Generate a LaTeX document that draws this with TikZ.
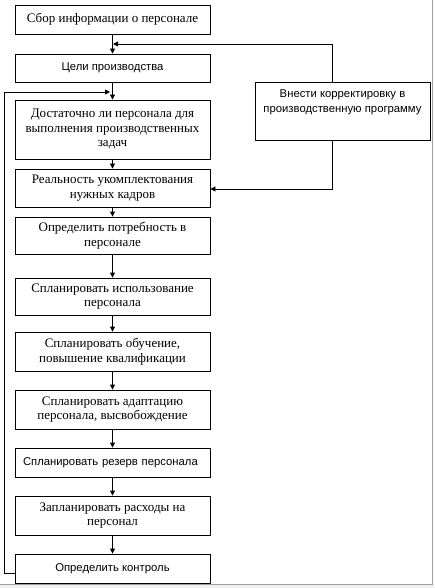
\documentclass[tikz,border=0pt]{standalone}
\usepackage{fontspec}
\setmainfont{Liberation Serif}
\newfontfamily\sansf{Liberation Sans}
\usetikzlibrary{arrows.meta}
\definecolor{framegray}{RGB}{160,160,160}
\definecolor{stripgray}{RGB}{240,240,240}
\tikzset{
  box/.style={draw=black, line width=0.9pt, rectangle, minimum width=195pt, inner sep=2pt, align=center, font=\fontsize{13}{14.5}\selectfont},
  sbox/.style={box, font=\sansf\fontsize{11.3}{15}\selectfont},
  arr/.style={draw=black, line width=0.9pt, -{Triangle[length=5pt,width=5pt]}},
  ln/.style={draw=black, line width=0.9pt}
}
\begin{document}
\begin{tikzpicture}[x=1pt,y=-1pt]
\useasboundingbox (0,0) rectangle (434,588);
\fill[white] (0,0) rectangle (434,588);
\fill[stripgray] (0,584) rectangle (434,588);
\draw[framegray, line width=1pt] (432,0) -- (432,584) -- (0,584);

\node[box, minimum height=29pt] (b1) at (112.5,19.5) {Сбор информации о персонале};
\node[sbox, minimum height=28pt] (b2) at (112.5,68) {\raisebox{2pt}{Цели производства}};
\node[box, minimum height=59pt] (b3) at (112.5,129.5) {Достаточно ли персонала для\\выполнения производственных\\задач};
\node[box, minimum height=38pt] (b4) at (112.5,188) {Реальность укомплектования\\нужных кадров};
\node[box, minimum height=37pt] (b5) at (112.5,235.5) {Определить потребность в\\персонале};
\node[box, minimum height=37pt] (b6) at (112.5,296.5) {Спланировать использование\\персонала};
\node[box, minimum height=39pt] (b7) at (112.5,351.5) {Спланировать обучение,\\повышение квалификации};
\node[box, minimum height=39pt] (b8) at (112.5,409.5) {Спланировать адаптацию\\персонала, высвобождение};
\node[sbox, minimum height=29pt, text width=179pt, inner xsep=8pt, align=left] (b9) at (112.5,462.5) {\raisebox{2pt}{Спланировать резерв персонала}};
\node[box, minimum height=39pt] (b10) at (112.5,515.5) {Запланировать расходы на\\персонал};
\node[sbox, minimum height=29pt] (b11) at (112.5,568.5) {Определить контроль};

\node[draw=black, line width=0.9pt, rectangle, minimum width=175pt, minimum height=58pt, inner sep=0pt] (r) at (342.5,111) {};
\node[font=\sansf\fontsize{11.3}{15}\selectfont, align=center, anchor=north, inner sep=0pt] (rt) at ([yshift=-8pt]r.north) {Внести корректировку в\\производственную программу};

\coordinate (j1) at (113,44);
\coordinate (j2) at (110,92);

\draw[arr] (b1) -- (b2);
\draw[arr] (b2) -- (b3);
\draw[arr] (b3) -- (b4);
\draw[arr] (b4) -- (b5);
\draw[arr] (b5) -- (b6);
\draw[arr] (b6) -- (b7);
\draw[arr] (b7) -- (b8);
\draw[arr] (b8) -- (b9);
\draw[arr] (b9) -- (b10);
\draw[arr] (b10) -- (b11);

\draw[arr] ([xshift=-10.5pt]r.north) |- (j1);
\draw[arr] ([xshift=-10.5pt]r.south) |- ([yshift=-1pt]b4.east);
\draw[arr] ([yshift=-4.5pt]b11.west) -- ++(-10,0) |- (j2);
\end{tikzpicture}
\end{document}
